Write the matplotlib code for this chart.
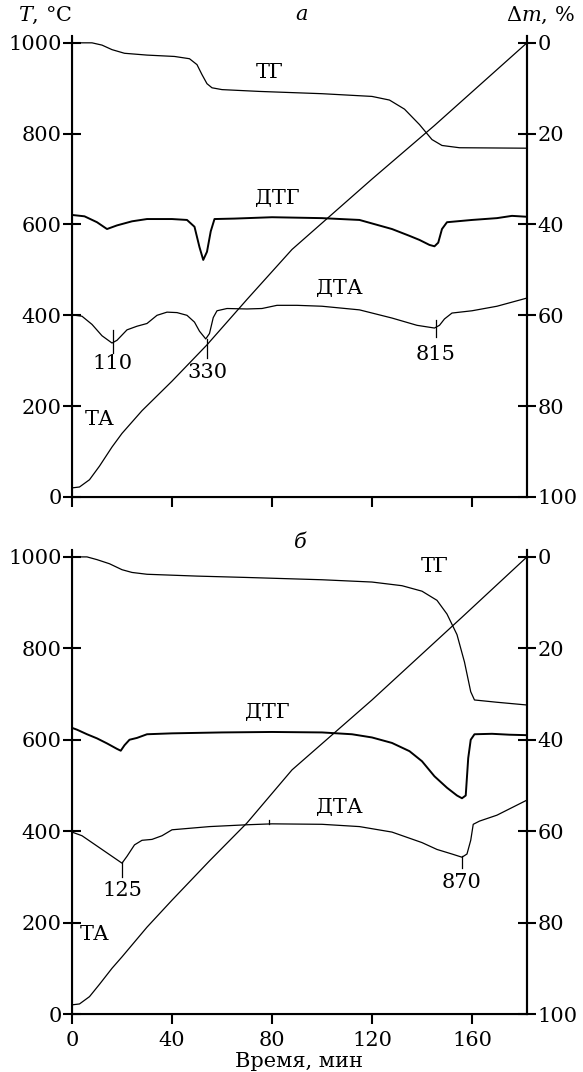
import matplotlib
matplotlib.use("Agg")
import matplotlib.pyplot as plt

plt.rcParams['font.family'] = ['DejaVu Serif']
plt.rcParams['mathtext.fontset'] = 'dejavuserif'

# panel a
ta_a_t = [0, 3, 7, 11, 16, 20, 28, 40, 54, 70, 88, 120, 145, 182]
ta_a_T = [20, 22, 38, 68, 110, 140, 190, 255, 335, 435, 545, 700, 818, 1000]

tg_a_t = [0, 8, 12, 16, 21, 30, 41, 47, 50, 52, 54, 56, 60, 75, 100, 120, 127, 133, 139, 144, 148, 155, 182]
tg_a_m = [0, 0, 0.5, 1.5, 2.3, 2.7, 3.0, 3.5, 4.8, 7, 9, 9.9, 10.3, 10.7, 11.2, 11.8, 12.6, 14.6, 18, 21.3, 22.6, 23.1, 23.2]

dtg_a_t = [0, 5, 10, 14, 18, 24, 30, 40, 46, 49, 51, 52.5, 54, 55.5, 57, 65, 80, 100, 115, 128, 135, 139, 143, 145, 146.5, 148, 150, 160, 170, 176, 182]
dtg_a_v = [621, 618, 605, 590, 598, 607, 612, 612, 610, 595, 550, 522, 540, 585, 612, 613, 616, 614, 610, 590, 575, 566, 555, 552, 560, 590, 605, 610, 614, 619, 617]

dta_a_t = [0, 4, 8, 12, 16, 18, 22, 26, 30, 34, 38, 42, 46, 49, 51, 53.5, 55, 56.5, 58, 62, 70, 76, 82, 90, 100, 115, 128, 138, 145, 147, 149, 152, 160, 170, 182]
dta_a_v = [401, 398, 380, 355, 339, 345, 368, 376, 382, 400, 407, 406, 400, 385, 365, 348, 360, 395, 410, 415, 414, 415, 422, 422, 420, 412, 394, 378, 372, 378, 392, 405, 410, 420, 438]

peaks_a = ["110", "330", "815"]
peaks_a_t = [16.4, 54, 145.6]
peaks_a_top = [368, 348, 390]
peaks_a_bot = [317, 306, 352]
peaks_a_lab = [295, 273, 313]

# panel b
ta_b_t = [0, 3, 7, 11, 16, 20, 30, 40, 55, 70, 88, 120, 156, 182]
ta_b_T = [20, 22, 38, 65, 100, 125, 190, 249, 335, 418, 534, 687, 868, 1000]

tg_b_t = [0, 6, 10, 15, 20, 24, 30, 50, 70, 100, 120, 132, 140, 146, 150, 154, 157, 159.5, 161, 170, 182]
tg_b_m = [0, 0, 0.6, 1.5, 2.8, 3.4, 3.8, 4.2, 4.5, 5.0, 5.5, 6.3, 7.5, 9.5, 12.5, 17, 23, 29.5, 31.3, 31.8, 32.4]

dtg_b_t = [0, 2, 6, 10, 14, 18, 19.5, 21, 23, 26, 30, 40, 60, 80, 100, 112, 120, 128, 135, 140, 145, 150, 154, 156, 157.5, 158.5, 159.5, 161, 168, 175, 182]
dtg_b_v = [626, 622, 612, 603, 592, 580, 576, 588, 600, 604, 612, 614, 616, 617, 616, 612, 605, 593, 575, 553, 520, 495, 478, 472, 478, 560, 600, 612, 613, 611, 610]

dta_b_t = [0, 4, 8, 12, 16, 20, 22, 25, 28, 32, 36, 40, 55, 70, 80, 100, 115, 128, 140, 146, 152, 156, 158, 159.5, 160.5, 163, 170, 182]
dta_b_v = [398, 390, 375, 360, 345, 330, 345, 370, 380, 382, 390, 403, 410, 414, 416, 415, 410, 398, 375, 360, 350, 343, 350, 380, 415, 422, 435, 468]

peaks_b = ["125", "870"]
peaks_b_t = [20, 156]
peaks_b_top = [332, 345]
peaks_b_bot = [300, 319]
peaks_b_lab = [271, 287]

x_ticks = [0, 40, 80, 120, 160]
T_ticks = [0, 200, 400, 600, 800, 1000]
m_ticks = [0, 20, 40, 60, 80, 100]

FS = 15
lw = 0.9

fig = plt.figure(figsize=(5.83, 10.72), dpi=100)
ax_a = fig.add_axes([0.1235, 0.5364, 0.7804, 0.430])
ax_b = fig.add_axes([0.1235, 0.0541, 0.7804, 0.4328])


def setup(ax, show_xlabels):
    ax.set_xlim(0, 182)
    ax.set_ylim(0, 1015)
    ax.set_yticks(T_ticks)
    ax.set_xticks(x_ticks)
    ax.spines['top'].set_visible(False)
    for s in ['left', 'bottom', 'right']:
        ax.spines[s].set_linewidth(1.5)
    ax.tick_params(axis='y', direction='inout', length=13, width=1.5, labelsize=FS, pad=1)
    ax.tick_params(axis='x', direction='out', length=7, width=1.5, labelsize=FS, pad=5)
    if not show_xlabels:
        ax.set_xticklabels([])
    ax2 = ax.twinx()
    ax2.set_ylim(100, -1.5)
    ax2.set_yticks(m_ticks)
    ax2.spines['top'].set_visible(False)
    ax2.spines['right'].set_linewidth(1.5)
    ax2.tick_params(axis='y', direction='inout', length=13, width=1.5, labelsize=FS, pad=1)
    return ax2


ax_a2 = setup(ax_a, False)
ax_b2 = setup(ax_b, True)

# curves a
ax_a.plot(ta_a_t, ta_a_T, color='black', lw=lw)
ax_a2.plot(tg_a_t, tg_a_m, color='black', lw=lw)
ax_a.plot(dtg_a_t, dtg_a_v, color='black', lw=1.4)
ax_a.plot(dta_a_t, dta_a_v, color='black', lw=lw)
for lab, t, top, bot, ly in zip(peaks_a, peaks_a_t, peaks_a_top, peaks_a_bot, peaks_a_lab):
    ax_a.plot([t, t], [bot, top], color='black', lw=lw)
    ax_a.text(t, ly, lab, ha='center', va='center', fontsize=FS)
ax_a.text(79, 934, "ТГ", ha='center', va='center', fontsize=FS)
ax_a.text(82, 658, "ДТГ", ha='center', va='center', fontsize=FS)
ax_a.text(107, 460, "ДТА", ha='center', va='center', fontsize=FS)
ax_a.text(11, 170, "ТА", ha='center', va='center', fontsize=FS)

# curves b
ax_b.plot(ta_b_t, ta_b_T, color='black', lw=lw)
ax_b2.plot(tg_b_t, tg_b_m, color='black', lw=lw)
ax_b.plot(dtg_b_t, dtg_b_v, color='black', lw=1.4)
ax_b.plot(dta_b_t, dta_b_v, color='black', lw=lw)
for lab, t, top, bot, ly in zip(peaks_b, peaks_b_t, peaks_b_top, peaks_b_bot, peaks_b_lab):
    ax_b.plot([t, t], [bot, top], color='black', lw=lw)
    ax_b.text(t, ly, lab, ha='center', va='center', fontsize=FS)
ax_b.plot([79, 79], [416, 425], color='black', lw=lw)
ax_b.text(145, 978, "ТГ", ha='center', va='center', fontsize=FS)
ax_b.text(78, 659, "ДТГ", ha='center', va='center', fontsize=FS)
ax_b.text(107, 451, "ДТА", ha='center', va='center', fontsize=FS)
ax_b.text(9, 173, "ТА", ha='center', va='center', fontsize=FS)

ax_b.set_xlabel("Время, мин", fontsize=FS, labelpad=2)

fig.text(45 / 583, 1 - 15 / 1072, r"$T$, °C", ha='center', va='center', fontsize=FS)
fig.text(302 / 583, 1 - 15 / 1072, r"$a$", ha='center', va='center', fontsize=FS)
fig.text(540 / 583, 1 - 15 / 1072, r"$\Delta m$, %", ha='center', va='center', fontsize=FS)
fig.text(300 / 583, 1 - 543 / 1072, "б", ha='center', va='center', fontsize=FS, style='italic')

fig.savefig("out.png", dpi=100)
